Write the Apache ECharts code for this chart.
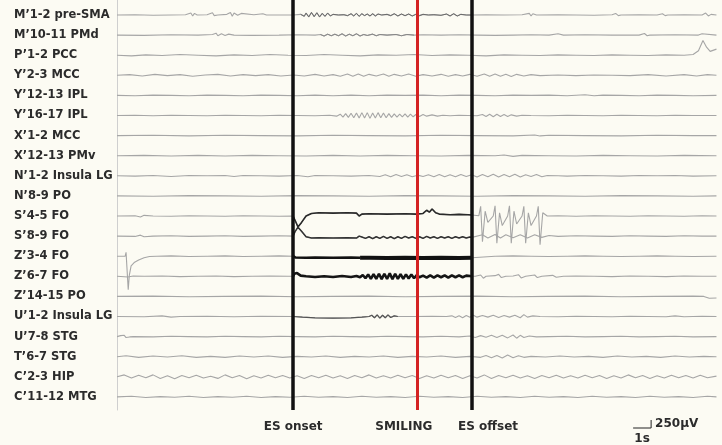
<!DOCTYPE html>
<html><head><meta charset="utf-8">
<script src="https://cdn.jsdelivr.net/npm/echarts@6/dist/echarts.min.js"></script>
<style>html,body{margin:0;padding:0;background:#fcfbf3}#c{width:722px;height:445px}</style>
</head><body><div id="c"></div><script>
// ---- channel names (top to bottom) ----
const channelNames = ["M’1-2 pre-SMA","M’10-11 PMd","P’1-2 PCC","Y’2-3 MCC","Y’12-13 IPL","Y’16-17 IPL","X’1-2 MCC","X’12-13 PMv","N’1-2 Insula LG","N’8-9 PO","S’4-5 FO","S’8-9 FO","Z’3-4 FO","Z’6-7 FO","Z’14-15 PO","U’1-2 Insula LG","U’7-8 STG","T’6-7 STG","C’2-3 HIP","C’11-12 MTG"];

// ---- signals: [time s, amplitude µV] ----
const ch0 = [[0,0],[1,10],[2,-10],[3,0],[3.8,10],[4.1,60],[4.2,-30],[4.3,50],[4.45,0],[5,10],[5.3,70],[5.4,-20],[5.5,40],[5.6,0],[6.1,20],[6.3,80],[6.4,-40],[6.5,60],[6.7,-10],[6.9,50],[7.0,0],[7.6,10],[8.1,40],[8.2,-20],[8.3,0],[9,0],[9.78,0],[10.2,20],[10.4,-40],[10.5,60],[10.65,-60],[10.8,80],[10.95,-50],[11.1,70],[11.25,-60],[11.4,50],[11.55,-40],[11.7,60],[11.85,-30],[12.0,20],[12.3,0],[12.6,10],[12.8,-20],[13.0,40],[13.15,-30],[13.3,50],[13.45,-40],[13.6,40],[13.75,-20],[13.9,30],[14.05,-30],[14.2,40],[14.35,-30],[14.5,30],[14.7,0],[15.0,20],[15.2,-20],[15.4,40],[15.6,-30],[15.8,30],[16.0,-20],[16.2,30],[16.4,-30],[16.6,20],[16.8,-20],[17.0,20],[17.3,0],[17.6,10],[18.0,-10],[18.3,30],[18.5,-30],[18.7,40],[18.9,-30],[19.1,20],[19.4,0],[19.7,0],[20.5,10],[21.5,0],[22.5,10],[22.9,50],[23.0,-30],[23.1,40],[23.3,0],[24.5,10],[25.5,0],[26.5,-10],[27.5,10],[27.7,50],[27.85,-20],[28,0],[29,10],[30,0],[30.3,40],[30.45,-20],[30.6,0],[31.5,10],[32.5,0],[32.7,60],[32.85,-30],[33,20],[33.3,0]];
const ch1 = [[0,0],[1.5,-10],[3,10],[4.5,0],[5.3,20],[5.5,60],[5.6,-20],[5.8,40],[6.0,-10],[6.2,30],[6.5,0],[7.5,-10],[9,0],[10,10],[11,0],[11.3,20],[11.5,-30],[11.7,30],[11.9,-20],[12.1,30],[12.3,-20],[12.5,40],[12.7,-30],[12.9,30],[13.1,-20],[13.3,40],[13.5,-30],[13.7,20],[13.9,-10],[14.2,30],[14.4,-20],[14.6,20],[15,0],[15.5,20],[15.8,-20],[16.1,20],[16.5,0],[17,10],[18,0],[19,10],[20,0],[21,-10],[22,0],[23,10],[24,0],[24.5,40],[24.6,-20],[24.8,0],[26,10],[27.5,0],[29,0],[29.3,50],[29.45,-20],[29.6,0],[31,10],[32.3,0],[32.5,40],[32.6,-10],[33.3,0]];
const ch2 = [[0,0],[0.8,-20],[1.6,10],[2.5,-10],[3.5,20],[4.5,0],[5.5,-20],[6.5,10],[7.5,-10],[8.5,20],[9.5,0],[10.5,-10],[11.5,20],[12.5,0],[13.5,-20],[14.5,10],[15.5,0],[16.5,20],[17.5,-10],[18.5,10],[19.5,0],[20.5,-20],[21.5,10],[22.5,0],[23.5,-10],[24.5,10],[25.5,0],[26.5,-10],[27.5,10],[28.5,0],[29.5,-10],[30.5,10],[31.5,0],[32.0,20],[32.3,140],[32.55,460],[32.75,250],[32.95,120],[33.3,190]];
const ch3 = [[0,0],[0.7,20],[1.4,-20],[2.1,30],[2.8,-10],[3.5,20],[4.2,-30],[4.9,10],[5.6,30],[6.3,-20],[7,20],[7.7,-10],[8.4,20],[9.1,-20],[9.8,10],[10.4,-20],[11,30],[11.5,-20],[12,20],[12.4,-30],[12.8,40],[13.1,-30],[13.4,40],[13.7,-30],[14,30],[14.4,-20],[14.8,40],[15.1,-30],[15.4,30],[15.8,-20],[16.2,40],[16.6,-30],[17,20],[17.5,-20],[18,30],[18.4,-30],[18.8,20],[19.2,-20],[19.6,30],[20,-30],[20.4,40],[20.7,-30],[21,40],[21.3,-30],[21.6,30],[21.9,-40],[22.2,30],[22.6,-20],[23,20],[23.5,-10],[24.5,10],[25.5,-10],[26.5,10],[27.5,0],[28.5,-10],[29.5,20],[30.5,-20],[31.5,20],[32.2,-20],[32.8,20],[33.3,0]];
const ch4 = [[0,0],[1,-10],[2,10],[3,0],[4,-10],[5,10],[6,0],[7,-10],[8,10],[9,0],[10,-10],[11,10],[12,-10],[13,10],[14,-10],[15,10],[16,0],[17,10],[18,-10],[19,10],[20,0],[21,-10],[22,10],[23,0],[24,10],[25,-10],[26,20],[26.5,-10],[27,10],[28,0],[29,-10],[30,10],[31,0],[32,-10],[33.3,0]];
const ch5 = [[0,0],[1,10],[2,-10],[3,10],[4,0],[5,-10],[6,10],[7,0],[8,-10],[9,10],[10,0],[11,-10],[11.8,10],[12.2,-20],[12.4,40],[12.55,-50],[12.7,60],[12.85,-60],[13.0,70],[13.15,-70],[13.3,80],[13.45,-80],[13.6,90],[13.75,-80],[13.9,90],[14.05,-90],[14.2,80],[14.35,-80],[14.5,90],[14.65,-70],[14.8,80],[14.95,-70],[15.1,60],[15.25,-60],[15.4,50],[15.55,-50],[15.7,40],[15.85,-40],[16.0,50],[16.15,-50],[16.3,40],[16.45,-40],[16.6,30],[16.8,-30],[17.0,30],[17.2,-20],[17.5,20],[17.8,-20],[18.1,10],[18.5,-10],[19,10],[19.5,0],[20,-10],[20.3,30],[20.5,-30],[20.7,40],[20.9,-40],[21.1,40],[21.3,-30],[21.5,30],[21.7,-30],[21.9,20],[22.2,-20],[22.5,10],[23,0],[24,-10],[25,10],[26,0],[27,-10],[28,10],[29,0],[30,-10],[31,10],[32,0],[33.3,0]];
const ch6 = [[0,0],[2,10],[4,-10],[6,10],[8,0],[10,-10],[12,10],[14,0],[16,-10],[18,10],[20,0],[22,-10],[23.2,20],[23.5,-10],[24,10],[26,0],[28,-10],[30,10],[32,0],[33.3,0]];
const ch7 = [[0,0],[1.5,10],[3,-10],[4.5,10],[6,-10],[7.5,10],[9,0],[10.5,-10],[12,10],[13.5,-10],[15,10],[16.5,0],[18,-10],[19.5,10],[21,0],[21.5,20],[22,-20],[22.5,10],[24,0],[25.5,-10],[27,10],[28.5,0],[30,-10],[31.5,10],[33.3,0]];
const ch8 = [[0,0],[1,-10],[2,10],[3,-20],[4,10],[5,0],[6,10],[6.5,-20],[7,10],[8,0],[9,-10],[10,10],[10.6,-30],[11,10],[12,0],[13,-10],[14,10],[14.6,-20],[14.9,30],[15.2,-30],[15.5,40],[15.8,-20],[16.1,30],[16.4,-30],[16.7,20],[17,-20],[17.3,30],[17.6,-30],[17.9,40],[18.2,-30],[18.5,30],[18.8,-30],[19.1,40],[19.4,-20],[19.7,30],[20,-40],[20.3,40],[20.6,-30],[20.9,50],[21.2,-40],[21.5,40],[21.8,-30],[22.1,50],[22.4,-40],[22.7,30],[23,-20],[23.3,40],[23.6,-30],[23.9,10],[24.5,0],[25,-10],[26,10],[27,0],[28,-10],[29,10],[30,0],[31,10],[32,-10],[33.3,0]];
const ch9 = [[0,0],[2,-10],[4,10],[6,0],[8,-10],[10,10],[12,0],[14,-10],[16,10],[18,0],[20,-10],[22,10],[24,0],[26,-10],[28,10],[30,0],[32,-10],[33.3,0]];
const ch10 = [[0,0],[1,10],[1.3,-30],[1.5,20],[2,0],[3,-10],[4,10],[5,0],[6,-10],[7,10],[8,0],[9,-10],[9.78,0],[9.9,-150],[10.05,-340],[10.25,-200],[10.5,0],[10.8,80],[11.2,100],[12,90],[12.8,100],[13.3,90],[13.45,0],[13.6,60],[14,70],[15,60],[16,70],[16.6,60],[17.0,80],[17.2,180],[17.35,120],[17.5,220],[17.7,100],[17.9,60],[18.5,40],[19,50],[19.5,40],[19.72,30],[19.8,0],[20.1,10],[20.2,300],[20.3,-800],[20.45,150],[20.6,-200],[20.9,0],[21.0,320],[21.1,-850],[21.25,100],[21.4,-300],[21.7,0],[21.8,320],[21.9,-850],[22.05,150],[22.2,-250],[22.5,0],[22.6,300],[22.7,-850],[22.85,100],[23.0,-300],[23.3,0],[23.4,300],[23.5,-900],[23.65,100],[23.9,0],[24.5,10],[25.5,-10],[26.5,10],[27.5,0],[28.5,-10],[29.5,10],[30.5,0],[31.5,-10],[32.5,10],[33.3,0]];
const ch11 = [[0,0],[1,-10],[1.3,30],[1.5,-20],[2,0],[3,10],[4,-10],[5,0],[6,10],[7,-10],[8,0],[9,10],[9.78,0],[9.9,150],[10.05,280],[10.25,150],[10.5,-20],[10.8,-60],[11.2,-50],[12,-60],[12.8,-50],[13.3,-60],[13.45,0],[13.6,-30],[13.8,-70],[14.0,-20],[14.2,-80],[14.4,-20],[14.6,-70],[14.8,-10],[15.0,-70],[15.2,-20],[15.4,-80],[15.6,-20],[15.8,-70],[16.0,-10],[16.2,-60],[16.4,-20],[16.6,-70],[16.8,-20],[17.0,-70],[17.2,-10],[17.4,-60],[17.6,-20],[17.8,-70],[18.0,-20],[18.2,-60],[18.4,-20],[18.6,-70],[18.8,-20],[19.0,-60],[19.2,-20],[19.4,-60],[19.6,-30],[19.72,-40],[19.8,0],[20.3,40],[20.6,-60],[21.0,50],[21.3,-60],[21.6,40],[22,-50],[22.4,40],[22.8,-60],[23.2,40],[23.6,-40],[24,20],[24.5,-10],[25.5,10],[26.5,0],[27.5,-10],[28.5,10],[29.5,0],[30.5,-10],[31.5,10],[32.5,0],[33.3,0]];
const ch12 = [[0,0],[0.45,0],[0.5,120],[0.58,60],[0.62,-1050],[0.68,-600],[0.78,-300],[0.95,-200],[1.2,-120],[1.5,-50],[1.8,-10],[2.2,0],[3,10],[4,-10],[5,0],[6,10],[7,-10],[8,0],[9,10],[9.78,0],[9.9,-40],[10.5,-50],[11,-40],[12,-50],[13,-40],[13.5,-50],[13.6,-60],[14,-50],[15,-60],[16,-50],[17,-60],[18,-50],[19,-60],[19.72,-50],[19.8,0],[21,0],[22,10],[23,0],[24,-10],[25,0],[26,10],[27,0],[28,-10],[29,0],[30,10],[31,0],[32,-10],[33.3,0]];
const ch13 = [[0,0],[0.6,-20],[0.9,10],[1.5,0],[2.5,10],[3.5,-10],[4.5,0],[5.5,10],[6.5,-10],[7.5,0],[8.5,10],[9.5,0],[9.78,0],[9.85,80],[10.0,100],[10.2,20],[10.5,0],[11,-20],[11.5,0],[12,-20],[12.5,10],[13,-20],[13.3,10],[13.5,-30],[13.65,40],[13.8,-60],[13.95,60],[14.1,-80],[14.25,70],[14.4,-80],[14.55,80],[14.7,-90],[14.85,80],[15.0,-80],[15.15,90],[15.3,-90],[15.45,80],[15.6,-80],[15.75,70],[15.9,-80],[16.05,60],[16.2,-70],[16.35,60],[16.5,-60],[16.65,40],[16.8,-30],[17.0,20],[17.2,-40],[17.4,30],[17.6,-40],[17.8,30],[18.0,-30],[18.2,30],[18.4,-40],[18.6,30],[18.8,-30],[19.0,30],[19.2,-30],[19.4,20],[19.72,0],[19.9,0],[20.2,40],[20.35,-60],[20.5,0],[21,20],[21.2,60],[21.35,-40],[21.6,0],[22,10],[22.3,50],[22.45,-50],[22.7,0],[23.2,40],[23.35,-40],[23.6,0],[24.2,30],[24.4,-30],[24.8,0],[25.5,10],[26.5,0],[27.5,-10],[28.5,10],[29.5,0],[30.5,-10],[31.5,10],[32.5,0],[33.3,0]];
const ch14 = [[0,0],[2,10],[4,-10],[6,0],[8,10],[10,-10],[12,0],[14,10],[16,-10],[18,0],[20,10],[22,-10],[24,0],[26,10],[28,-10],[30,0],[32,10],[32.6,0],[32.9,-60],[33.3,-50]];
const ch15 = [[0,0],[1.5,-10],[2.5,20],[3,-20],[3.5,0],[5,10],[6.5,-10],[8,10],[9.78,0],[10.3,-20],[11,-40],[12,-50],[13,-40],[13.6,-20],[14.0,0],[14.15,40],[14.3,-40],[14.45,50],[14.6,-50],[14.75,40],[14.9,-40],[15.05,50],[15.2,-30],[15.4,20],[15.6,0],[16.5,0],[17.5,10],[18.3,0],[18.6,20],[18.8,-30],[19.0,20],[19.2,-40],[19.4,30],[19.6,-20],[19.8,40],[20.0,-20],[20.3,30],[20.6,-20],[20.9,40],[21.2,-30],[21.5,30],[21.8,-20],[22.1,40],[22.4,-40],[22.6,60],[22.8,-20],[23.1,20],[23.5,0],[24.5,-10],[25.5,10],[26.5,0],[27.5,-10],[28.5,10],[29.5,0],[30.5,-10],[31,20],[31.5,-10],[32.5,10],[33.3,0]];
const ch16 = [[0,0],[0.2,30],[0.3,-30],[0.4,40],[0.5,-30],[0.6,30],[0.7,-10],[0.9,0],[2,-10],[3,10],[4,0],[5,-10],[6,10],[7,0],[8,-10],[9,10],[10,0],[11,-10],[12,10],[13,0],[14,-10],[15,10],[16,0],[17,-10],[18,10],[19,-10],[19.6,20],[19.9,-30],[20.2,30],[20.5,-20],[20.8,40],[21.1,-30],[21.4,40],[21.7,-40],[22.0,50],[22.2,-50],[22.4,40],[22.6,-30],[22.9,20],[23.3,-10],[24,0],[25,10],[26,-10],[27,0],[28,10],[29,-10],[30,0],[31,10],[32,-10],[33.3,0]];
const ch17 = [[0,0],[0.5,30],[1.2,-20],[2,20],[2.8,-10],[3.6,30],[4.4,-20],[5.2,10],[6,-20],[6.8,20],[7.6,-10],[8.4,20],[9.2,-20],[10,10],[10.8,-10],[11.6,20],[12.4,-20],[13.2,10],[14,-10],[14.8,20],[15.6,-20],[16.4,10],[17.2,-10],[18,20],[18.8,-20],[19.6,10],[20.2,-20],[20.5,40],[20.8,-30],[21.1,40],[21.4,-40],[21.7,50],[22,-30],[22.3,30],[22.6,-20],[23,10],[23.8,-10],[24.6,20],[25.4,-10],[26.2,10],[27,-20],[27.8,20],[28.6,-10],[29.4,10],[30.2,-20],[31,20],[31.8,-10],[32.6,10],[33.3,0]];
const ch18 = [[0,0],[0.4,60],[0.8,-40],[1.2,50],[1.6,-30],[2.0,60],[2.4,-50],[2.8,30],[3.2,-60],[3.6,40],[4.0,-30],[4.4,50],[4.8,-40],[5.2,20],[5.6,-50],[6.0,60],[6.4,-30],[6.8,40],[7.2,-60],[7.6,30],[8.0,-40],[8.4,50],[8.8,-30],[9.2,40],[9.6,-40],[10,30],[10.4,-50],[10.8,40],[11.2,-30],[11.6,50],[12,-40],[12.4,30],[12.8,-50],[13.2,40],[13.6,-30],[14,60],[14.4,-40],[14.8,30],[15.2,-40],[15.6,50],[16,-30],[16.4,40],[16.8,-50],[17.2,30],[17.6,-40],[18,50],[18.4,-30],[18.8,40],[19.2,-50],[19.6,30],[20,-40],[20.4,60],[20.8,-50],[21.2,40],[21.6,-30],[22,50],[22.4,-40],[22.8,30],[23.2,-50],[23.6,40],[24,-30],[24.4,50],[24.8,-40],[25.2,30],[25.6,-40],[26,50],[26.4,-30],[26.8,40],[27.2,-50],[27.6,30],[28,-40],[28.4,60],[28.8,-30],[29.2,40],[29.6,-50],[30,30],[30.4,-40],[30.8,50],[31.2,-30],[31.6,40],[32,-40],[32.4,50],[32.8,-30],[33.3,20]];
const ch19 = [[0,0],[0.8,20],[1.6,-20],[2.4,10],[3.2,-10],[4,20],[4.8,-20],[5.6,10],[6.4,-10],[7.2,20],[8,-20],[8.8,10],[9.6,-10],[10.4,20],[11.2,-10],[12,10],[12.8,-20],[13.6,20],[14.4,-10],[15.2,10],[16,-20],[16.8,20],[17.6,-10],[18.4,10],[19.2,-20],[20,20],[20.8,-10],[21.6,10],[22.4,-20],[23.2,20],[24,-10],[24.8,10],[25.6,-20],[26.4,20],[27.2,-10],[28,10],[28.8,-20],[29.6,20],[30.4,-10],[31.2,10],[32,-20],[32.8,20],[33.3,0]];
const channels = [ch0,ch1,ch2,ch3,ch4,ch5,ch6,ch7,ch8,ch9,ch10,ch11,ch12,ch13,ch14,ch15,ch16,ch17,ch18,ch19];

// ---- events (s) ----
const eventNames = ["ES onset","SMILING","ES offset"];
const eventTimes = [9.78, 16.65, 19.72];

// ---- scale bar ----
const scaleSeconds = 1;
const scaleMicroV = 250;
const scaleLabels = ["1s","250µV"];

// ---- layout / style ----
const UV_PER_PX = 31.25;
const PLOT_H = 410;
const yMax = PLOT_H * UV_PER_PX;
const baseline = i => yMax - (15 + 20.1 * i) * UV_PER_PX;
const baselines = channels.map((c, i) => baseline(i));
const esStyles = [
  {ch:0, from:10.2, to:19.7, color:'#6a6a6a', width:1},
  {ch:1, from:11.3, to:16.5, color:'#888', width:1},
  {ch:10, from:9.78, to:19.72, color:'#2a2a2a', width:1.6},
  {ch:11, from:9.78, to:19.72, color:'#333', width:1.5},
  {ch:12, from:9.78, to:13.5, color:'#111', width:2.6},
  {ch:12, from:13.5, to:19.72, color:'#111', width:4},
  {ch:13, from:9.78, to:19.72, color:'#151515', width:2.6},
  {ch:15, from:9.78, to:15.6, color:'#555', width:1.2}
];
const eventColors = ['#111','#d42222','#111'];
const eventPad = [[0,0,0,0],[0,26,0,0],[0,0,0,32]];
const FONT = '"DejaVu Sans", sans-serif';
const TXT = '#2b2b2b';
const FS = 11.5;

const series = [];
channels.forEach((c, i) => {
  series.push({type:'line', data:c.map(p => [p[0], baselines[i] + p[1]]), showSymbol:false,
    lineStyle:{color:'#a6a6a6', width:1.1}, silent:true, z:2});
});
esStyles.forEach(s => {
  const c = channels[s.ch];
  series.push({type:'line', data:c.filter(p => p[0] >= s.from && p[0] <= s.to).map(p => [p[0], baselines[s.ch] + p[1]]),
    showSymbol:false, lineStyle:{color:s.color, width:s.width}, silent:true, z:3});
});
series.push({type:'line', data:[], silent:true, z:6,
  markLine:{symbol:'none', silent:true, animation:false,
    data:eventTimes.map((t, k) => ({xAxis:t, lineStyle:{color:eventColors[k], width:k===1?3:3.5, type:'solid'},
      label:{show:true, position:'start', distance:11, formatter:eventNames[k], color:TXT, fontWeight:'bold', fontSize:12, fontFamily:FONT, padding:eventPad[k]}}))}});
const sbT0 = 28.67, sbY = yMax - 428 * UV_PER_PX;
series.push({type:'line', clip:false, showSymbol:false, silent:true, z:6,
  data:[[sbT0, sbY],[sbT0 + scaleSeconds, sbY],[sbT0 + scaleSeconds, sbY + scaleMicroV]],
  lineStyle:{color:'#222', width:1}});

const chart = echarts.init(document.getElementById('c'), null, {renderer:'canvas'});
chart.setOption({
  animation:false,
  backgroundColor:'#fcfbf3',
  grid:{left:114, right:5, top:0, height:PLOT_H},
  xAxis:{type:'value', min:-0.17, max:33.33, show:false},
  yAxis:{type:'value', min:0, max:yMax,
    axisLine:{show:true, lineStyle:{color:'#cfcfcf', width:1}},
    axisTick:{show:false}, splitLine:{show:false},
    axisLabel:{customValues:baselines, align:'left', margin:100, color:TXT, fontWeight:'bold', fontSize:FS, fontFamily:FONT,
      formatter:v => { let b = 0, d = Infinity; baselines.forEach((y, i) => { const dd = Math.abs(y - v); if (dd < d) { d = dd; b = i; } }); return channelNames[b]; }}},
  series:series
});
const p0 = chart.convertToPixel({gridIndex:0}, [sbT0 + scaleSeconds / 2, sbY]);
const p1 = chart.convertToPixel({gridIndex:0}, [sbT0 + scaleSeconds, sbY + scaleMicroV / 2]);
chart.setOption({graphic:[
  {type:'text', x:p0[0], y:p0[1] + 5, style:{text:scaleLabels[0], fill:TXT, font:'bold 12px ' + FONT, align:'center', verticalAlign:'top'}},
  {type:'text', x:p1[0] + 4, y:p1[1], style:{text:scaleLabels[1], fill:TXT, font:'bold 12px ' + FONT, align:'left', verticalAlign:'middle'}}
]});
</script></body></html>
